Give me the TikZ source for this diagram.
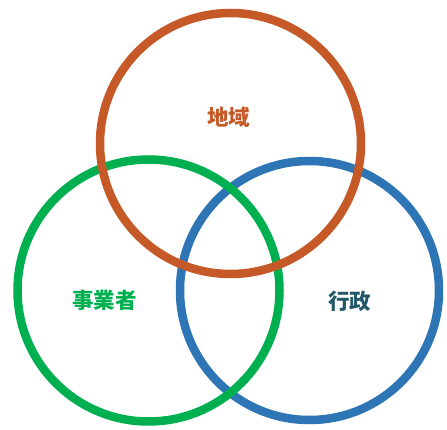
\documentclass[tikz,border=0pt]{standalone}
\usepackage{fontspec}
\newfontfamily\cjk{Noto Sans CJK JP}
\definecolor{corange}{HTML}{C55A28}
\definecolor{cgreen}{HTML}{00B050}
\definecolor{cblue}{HTML}{2E75B6}
\definecolor{cteal}{HTML}{245769}
\tikzset{ring/.style={line width=8.5pt},
  lbl/.style={font=\cjk\bfseries\fontsize{21.5}{25}\selectfont, inner sep=0pt}}
\begin{document}
\begin{tikzpicture}[x=1pt,y=-1pt]
\useasboundingbox (0,0) rectangle (447,430);
\draw[ring, cblue] (309.5,290.5) circle[radius=129.5];
\draw[ring, cgreen] (148.5,290.5) circle[radius=131];
\draw[ring, corange] (230.5,143.5) circle[radius=130.5];
\node[lbl, text=corange] (chiiki) at (228.5,117.5) {地域};
\node[lbl, text=cgreen] (jigyo) at (104.5,300) {事業者};
\node[lbl, text=cteal] (gyosei) at (349.5,301) {行政};
\end{tikzpicture}
\end{document}
